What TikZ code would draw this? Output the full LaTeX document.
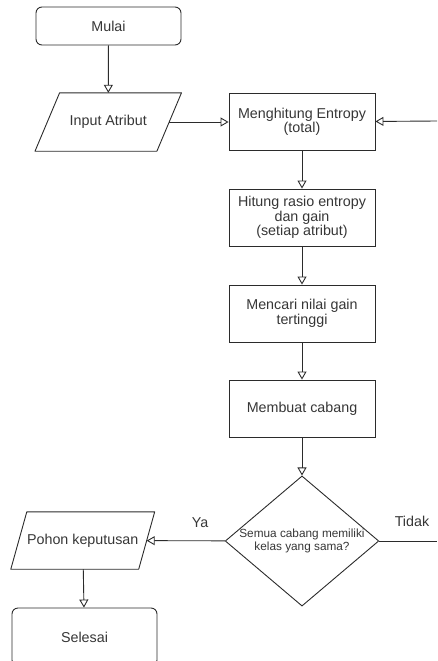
\documentclass[tikz,border=0pt]{standalone}
\usepackage{fontspec}
\setmainfont{Liberation Sans}
\usetikzlibrary{arrows.meta,shapes.geometric}
\definecolor{txtgray}{HTML}{363636}
\definecolor{linegray}{HTML}{2B2B2B}
\begin{document}
\begin{tikzpicture}[x=1pt,y=-1pt,
    every node/.style={font=\fontsize{14.3}{14.5}\selectfont, text=txtgray, align=center},
    terminal/.style={draw=linegray, line width=0.9pt, rounded corners=6pt, minimum width=145pt, minimum height=38pt},
    process/.style={draw=linegray, line width=0.9pt, minimum width=146pt, minimum height=57pt},
    io/.style={minimum width=121.5pt, minimum height=58pt, inner sep=0pt},
    decision/.style={draw=linegray, line width=0.9pt, diamond, inner sep=0pt, shape aspect=1.18,
        font=\fontsize{11.8}{13}\selectfont},
    flow/.style={draw=linegray, line width=0.9pt, -{Triangle[open,length=8pt,width=9pt]}}]
    \useasboundingbox (0,0) rectangle (437,661);

    \node[terminal] (mulai) at (108.5,26) {Mulai};
    \node[io] (input) at (108.25,122) {Input Atribut};
    \node[process] (entropi) at (302,122) {Menghitung Entropy\\(total)};
    \node[process] (rasio) at (302,217.5) {Hitung rasio entropy\\dan gain\\(setiap atribut)};
    \node[process] (gainmax) at (302,313.5) {Mencari nilai gain\\tertinggi};
    \node[process] (cabang) at (302,408.5) {Membuat cabang};
    \node[decision] (cek) at (302,541) {Semua cabang memiliki\\kelas yang sama?};
    \node[io, minimum width=127.5pt, minimum height=57pt] (pohon) at (82.75,540.5) {Pohon keputusan};
    \node[terminal, minimum height=58pt] (selesai) at (84.5,637) {Selesai};

    % parallelogram outlines around the io nodes
    \foreach \n/\s in {input/12.3, pohon/8} {
        \draw[draw=linegray, line width=0.9pt, line join=round]
            ([xshift=-\s pt]\n.south west) -- ([xshift=\s pt]\n.north west)
            -- ([xshift=\s pt]\n.north east) -- ([xshift=-\s pt]\n.south east) -- cycle;
    }

    \coordinate (balik) at (437,121);
    \coordinate (lanjut) at (437,541);

    \draw[flow] (mulai) -- (input);
    \draw[flow] (input) -- (entropi);
    \draw[flow] (balik) -- (entropi);
    \foreach \a/\b in {entropi/rasio, rasio/gainmax, gainmax/cabang, cabang/cek}
        \draw[flow] (\a) -- (\b);
    \draw[flow] (cek) -- (pohon);
    \draw[flow] (pohon) -- (selesai);
    \draw[draw=linegray, line width=0.9pt] (cek) -- (lanjut);

    \node (ya) at (200,523) {Ya};
    \node (tidak) at (412,521) {Tidak};
\end{tikzpicture}
\end{document}
